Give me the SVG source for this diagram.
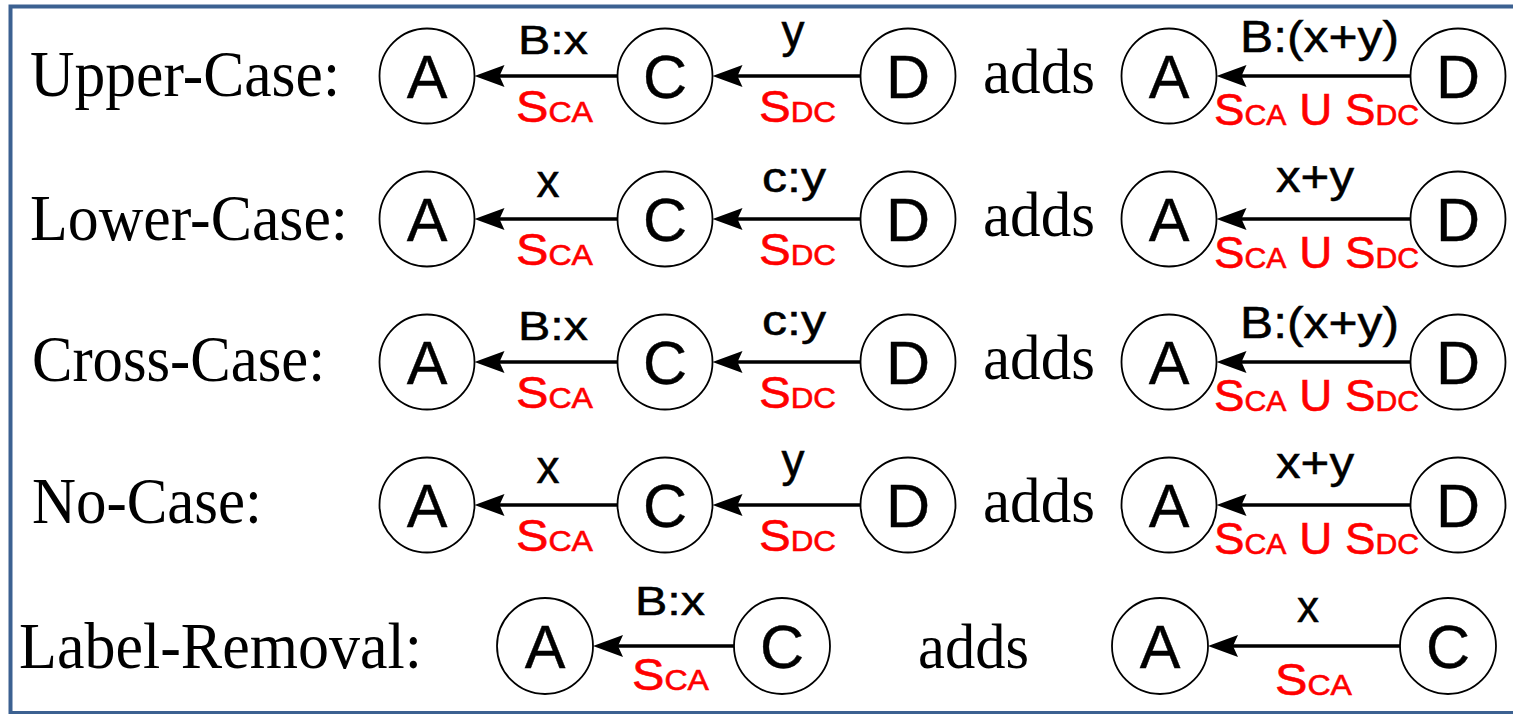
<svg xmlns="http://www.w3.org/2000/svg" width="1513" height="714" viewBox="0 0 1513 714">
<defs>
<style>
.bg{fill:#ffffff}
.frame{fill:none;stroke:#3c6191;stroke-width:4}
.node circle{fill:#ffffff;stroke:#000;stroke-width:1.8}
.nl{font-family:"Liberation Sans",Arial,sans-serif;font-size:61px;fill:#000;text-anchor:middle;stroke:#000;stroke-width:0.4}
.rl{font-family:"Liberation Serif","Times New Roman",serif;font-size:66px;fill:#000}
.adds{font-family:"Liberation Serif","Times New Roman",serif;font-size:63px;fill:#000}
.el{font-family:"Liberation Sans",Arial,sans-serif;fill:#000;stroke:#000;stroke-width:0.5}
.sl{font-family:"Liberation Sans",Arial,sans-serif;fill:#ff0000;stroke:#ff0000;stroke-width:0.6}
.big{font-size:44px}
.sub{font-size:29px}
.edge{stroke:#000;stroke-width:3.5;fill:none;marker-end:url(#ah)}
</style>
<marker id="ah" markerUnits="userSpaceOnUse" orient="auto" refX="-20" refY="0" markerWidth="40" markerHeight="30" overflow="visible">
<path d="M0,0 L-30,-11 L-25,0 L-30,11 Z" fill="#000"/>
</marker>
</defs>
<rect class="bg" x="0" y="0" width="1513" height="714"/>
<rect class="frame" x="10.5" y="6.5" width="1520" height="706.5"/>

<!-- row labels -->
<g id="row-labels">
<text class="rl" x="30" y="96" textLength="310" lengthAdjust="spacingAndGlyphs">Upper-Case:</text>
<text class="rl" x="30" y="240" textLength="318" lengthAdjust="spacingAndGlyphs">Lower-Case:</text>
<text class="rl" x="32" y="381" textLength="293" lengthAdjust="spacingAndGlyphs">Cross-Case:</text>
<text class="rl" x="32" y="523" textLength="230" lengthAdjust="spacingAndGlyphs">No-Case:</text>
<text class="rl" x="19" y="668" textLength="403" lengthAdjust="spacingAndGlyphs">Label-Removal:</text>
</g>
<g id="adds-labels">
<text class="adds" x="983" y="93" textLength="112" lengthAdjust="spacingAndGlyphs">adds</text>
<text class="adds" x="983" y="236" textLength="112" lengthAdjust="spacingAndGlyphs">adds</text>
<text class="adds" x="983" y="379" textLength="112" lengthAdjust="spacingAndGlyphs">adds</text>
<text class="adds" x="983" y="522" textLength="112" lengthAdjust="spacingAndGlyphs">adds</text>
<text class="adds" x="918" y="668" textLength="111" lengthAdjust="spacingAndGlyphs">adds</text>
</g>

<!-- connectors -->
<g id="connectors">
<line class="edge" x1="617.5" y1="76" x2="494.5" y2="76"/>
<line class="edge" x1="860.5" y1="76" x2="732.5" y2="76"/>
<line class="edge" x1="1410.5" y1="76" x2="1236.5" y2="76"/>
<line class="edge" x1="617.5" y1="219" x2="494.5" y2="219"/>
<line class="edge" x1="860.5" y1="219" x2="732.5" y2="219"/>
<line class="edge" x1="1410.5" y1="219" x2="1236.5" y2="219"/>
<line class="edge" x1="617.5" y1="362" x2="494.5" y2="362"/>
<line class="edge" x1="860.5" y1="362" x2="732.5" y2="362"/>
<line class="edge" x1="1410.5" y1="362" x2="1236.5" y2="362"/>
<line class="edge" x1="617.5" y1="505" x2="494.5" y2="505"/>
<line class="edge" x1="860.5" y1="505" x2="732.5" y2="505"/>
<line class="edge" x1="1410.5" y1="505" x2="1236.5" y2="505"/>
<line class="edge" x1="734" y1="646" x2="613" y2="646"/>
<line class="edge" x1="1400" y1="646" x2="1228" y2="646"/>
</g>

<!-- edge labels -->
<g id="edge-labels">
<!-- row 1 -->
<text class="el" x="518" y="54" font-size="40" textLength="70" lengthAdjust="spacingAndGlyphs">B:x</text>
<text class="el" x="793" y="47" font-size="46" text-anchor="middle">y</text>
<text class="sl" x="516" y="122" textLength="77" lengthAdjust="spacingAndGlyphs"><tspan class="big">S</tspan><tspan class="sub">CA</tspan></text>
<text class="sl" x="759" y="122" textLength="77" lengthAdjust="spacingAndGlyphs"><tspan class="big">S</tspan><tspan class="sub">DC</tspan></text>
<text class="el" x="1240" y="52" font-size="45" textLength="159" lengthAdjust="spacingAndGlyphs">B:(x+y)</text>
<text class="sl" x="1214" y="125" textLength="205" lengthAdjust="spacingAndGlyphs"><tspan class="big">S</tspan><tspan class="sub">CA</tspan><tspan class="big"> U S</tspan><tspan class="sub">DC</tspan></text>
<!-- row 2 -->
<text class="el" x="548" y="197" font-size="46" text-anchor="middle">x</text>
<text class="el" x="762" y="192" font-size="42" textLength="64" lengthAdjust="spacingAndGlyphs">c:y</text>
<text class="sl" x="516" y="265" textLength="77" lengthAdjust="spacingAndGlyphs"><tspan class="big">S</tspan><tspan class="sub">CA</tspan></text>
<text class="sl" x="759" y="265" textLength="77" lengthAdjust="spacingAndGlyphs"><tspan class="big">S</tspan><tspan class="sub">DC</tspan></text>
<text class="el" x="1276" y="192" font-size="45" textLength="78" lengthAdjust="spacingAndGlyphs">x+y</text>
<text class="sl" x="1214" y="268" textLength="205" lengthAdjust="spacingAndGlyphs"><tspan class="big">S</tspan><tspan class="sub">CA</tspan><tspan class="big"> U S</tspan><tspan class="sub">DC</tspan></text>
<!-- row 3 -->
<text class="el" x="518" y="340" font-size="40" textLength="70" lengthAdjust="spacingAndGlyphs">B:x</text>
<text class="el" x="762" y="335" font-size="42" textLength="64" lengthAdjust="spacingAndGlyphs">c:y</text>
<text class="sl" x="516" y="408" textLength="77" lengthAdjust="spacingAndGlyphs"><tspan class="big">S</tspan><tspan class="sub">CA</tspan></text>
<text class="sl" x="759" y="408" textLength="77" lengthAdjust="spacingAndGlyphs"><tspan class="big">S</tspan><tspan class="sub">DC</tspan></text>
<text class="el" x="1240" y="338" font-size="45" textLength="159" lengthAdjust="spacingAndGlyphs">B:(x+y)</text>
<text class="sl" x="1214" y="411" textLength="205" lengthAdjust="spacingAndGlyphs"><tspan class="big">S</tspan><tspan class="sub">CA</tspan><tspan class="big"> U S</tspan><tspan class="sub">DC</tspan></text>
<!-- row 4 -->
<text class="el" x="548" y="483" font-size="46" text-anchor="middle">x</text>
<text class="el" x="793" y="476" font-size="46" text-anchor="middle">y</text>
<text class="sl" x="516" y="551" textLength="77" lengthAdjust="spacingAndGlyphs"><tspan class="big">S</tspan><tspan class="sub">CA</tspan></text>
<text class="sl" x="759" y="551" textLength="77" lengthAdjust="spacingAndGlyphs"><tspan class="big">S</tspan><tspan class="sub">DC</tspan></text>
<text class="el" x="1276" y="478" font-size="45" textLength="78" lengthAdjust="spacingAndGlyphs">x+y</text>
<text class="sl" x="1214" y="554" textLength="205" lengthAdjust="spacingAndGlyphs"><tspan class="big">S</tspan><tspan class="sub">CA</tspan><tspan class="big"> U S</tspan><tspan class="sub">DC</tspan></text>
<!-- row 5 -->
<text class="el" x="635" y="615" font-size="40" textLength="70" lengthAdjust="spacingAndGlyphs">B:x</text>
<text class="sl" x="632" y="690" textLength="77" lengthAdjust="spacingAndGlyphs"><tspan class="big">S</tspan><tspan class="sub">CA</tspan></text>
<text class="el" x="1308" y="622" font-size="44" text-anchor="middle">x</text>
<text class="sl" x="1275" y="695" textLength="77" lengthAdjust="spacingAndGlyphs"><tspan class="big">S</tspan><tspan class="sub">CA</tspan></text>
</g>

<!-- nodes -->
<g id="r1-A" class="node"><circle cx="427" cy="76" r="47.5"/><text class="nl" x="427" y="98">A</text></g>
<g id="r1-C" class="node"><circle cx="665" cy="76" r="47.5"/><text class="nl" x="665" y="98">C</text></g>
<g id="r1-D" class="node"><circle cx="908" cy="76" r="47.5"/><text class="nl" x="908" y="98">D</text></g>
<g id="r1-A2" class="node"><circle cx="1169" cy="76" r="47.5"/><text class="nl" x="1169" y="98">A</text></g>
<g id="r1-D2" class="node"><circle cx="1458" cy="76" r="47.5"/><text class="nl" x="1458" y="98">D</text></g>

<g id="r2-A" class="node"><circle cx="427" cy="219" r="47.5"/><text class="nl" x="427" y="241">A</text></g>
<g id="r2-C" class="node"><circle cx="665" cy="219" r="47.5"/><text class="nl" x="665" y="241">C</text></g>
<g id="r2-D" class="node"><circle cx="908" cy="219" r="47.5"/><text class="nl" x="908" y="241">D</text></g>
<g id="r2-A2" class="node"><circle cx="1169" cy="219" r="47.5"/><text class="nl" x="1169" y="241">A</text></g>
<g id="r2-D2" class="node"><circle cx="1458" cy="219" r="47.5"/><text class="nl" x="1458" y="241">D</text></g>

<g id="r3-A" class="node"><circle cx="427" cy="362" r="47.5"/><text class="nl" x="427" y="384">A</text></g>
<g id="r3-C" class="node"><circle cx="665" cy="362" r="47.5"/><text class="nl" x="665" y="384">C</text></g>
<g id="r3-D" class="node"><circle cx="908" cy="362" r="47.5"/><text class="nl" x="908" y="384">D</text></g>
<g id="r3-A2" class="node"><circle cx="1169" cy="362" r="47.5"/><text class="nl" x="1169" y="384">A</text></g>
<g id="r3-D2" class="node"><circle cx="1458" cy="362" r="47.5"/><text class="nl" x="1458" y="384">D</text></g>

<g id="r4-A" class="node"><circle cx="427" cy="505" r="47.5"/><text class="nl" x="427" y="527">A</text></g>
<g id="r4-C" class="node"><circle cx="665" cy="505" r="47.5"/><text class="nl" x="665" y="527">C</text></g>
<g id="r4-D" class="node"><circle cx="908" cy="505" r="47.5"/><text class="nl" x="908" y="527">D</text></g>
<g id="r4-A2" class="node"><circle cx="1169" cy="505" r="47.5"/><text class="nl" x="1169" y="527">A</text></g>
<g id="r4-D2" class="node"><circle cx="1458" cy="505" r="47.5"/><text class="nl" x="1458" y="527">D</text></g>

<g id="r5-A" class="node"><circle cx="545" cy="646" r="48"/><text class="nl" x="545" y="668">A</text></g>
<g id="r5-C" class="node"><circle cx="782" cy="646" r="48"/><text class="nl" x="782" y="668">C</text></g>
<g id="r5-A2" class="node"><circle cx="1160" cy="646" r="48"/><text class="nl" x="1160" y="668">A</text></g>
<g id="r5-C2" class="node"><circle cx="1448" cy="646" r="48"/><text class="nl" x="1448" y="668">C</text></g>
</svg>
